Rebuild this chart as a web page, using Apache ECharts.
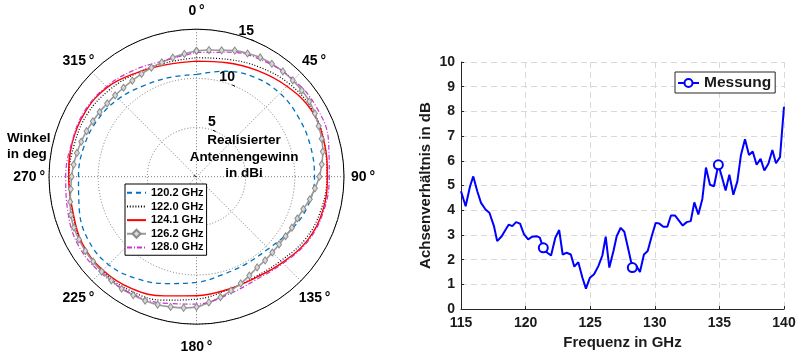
<!DOCTYPE html>
<html><head><meta charset="utf-8">
<script src="https://cdn.jsdelivr.net/npm/echarts@6/dist/echarts.min.js"></script>
<style>html,body{margin:0;padding:0;background:#fff}#c{width:801px;height:355px}</style>
</head><body><div id="c"></div>
<script>
// ---------- Polar chart data (realized gain in dBi vs angle in deg) ----------
const angles15 = [0,15,30,45,60,75,90,105,120,135,150,165,180,195,210,225,240,255,270,285,300,315,330,345];
const gain1202 = [10.4,11.1,11.7,12.0,12.0,12.0,12.0,11.7,11.0,10.35,10.2,10.3,10.75,11.25,12.0,12.65,12.75,12.35,12.0,11.85,11.6,11.2,10.7,10.45];
const gain1220 = [12.1,12.35,12.85,13.35,13.6,13.45,13.25,13.1,12.75,12.1,11.8,11.95,12.45,13.0,13.4,13.55,13.5,13.1,12.95,12.85,12.8,12.5,12.15,12.0];
const gain1241 = [11.75,12.0,12.45,13.0,13.5,13.45,13.3,13.3,13.0,12.35,11.9,11.9,12.1,12.55,13.15,13.45,13.45,13.05,13.0,13.1,13.1,12.85,12.2,11.8];
const gain1280 = [12.65,13.1,13.6,13.95,14.1,13.9,13.5,13.4,13.1,12.45,12.1,12.4,12.95,13.3,13.6,13.8,13.9,13.55,13.3,13.15,13.2,12.95,12.55,12.25];
const angles126 = [0,5.625,11.25,16.875,22.5,28.125,33.75,39.375,45,50.625,56.25,61.875,67.5,73.125,78.75,84.375,
  90,95.625,101.25,106.875,112.5,118.125,123.75,129.375,135,140.625,146.25,151.875,157.5,163.125,168.75,174.375,
  180,185.625,191.25,196.875,202.5,208.125,213.75,219.375,225,230.625,236.25,241.875,247.5,253.125,258.75,264.375,
  270,275.625,281.25,286.875,292.5,298.125,303.75,309.375,315,320.625,326.25,331.875,337.5,343.125,348.75,354.375];
const gain1262 = [12.8,12.94,13.1,13.4,13.56,13.75,13.8,13.85,13.85,13.85,13.8,13.65,13.45,13.3,13.1,12.8,
  12.5,12.1,11.75,11.35,11.1,11.0,10.9,10.86,10.9,11.0,11.1,11.4,11.75,12.1,12.5,12.85,
  13.25,13.4,13.5,13.6,13.65,13.65,13.7,13.65,13.65,13.6,13.6,13.55,13.5,13.35,13.1,12.85,
  12.7,12.55,12.4,12.25,12.1,11.95,11.85,11.75,11.7,11.7,11.75,11.85,12.0,12.15,12.35,12.55];
const angleTicks = [0,45,90,135,180,225,270,315];
const radiusTicks = [5,10,15];

// ---------- Axial ratio data ----------
const freqGHz = [115,115.36,115.7,115.95,116.26,116.55,116.9,117.2,117.55,117.8,118.15,118.46,118.7,118.97,119.26,119.57,119.88,120.2,120.5,120.86,
  121.1,121.37,121.68,121.97,122.3,122.6,122.87,123.18,123.5,123.77,124.08,124.4,124.67,124.98,125.3,125.63,125.94,126.2,126.48,126.8,
  127.05,127.36,127.64,127.95,128.26,128.55,128.85,129.16,129.45,129.76,130.07,130.35,130.66,130.97,131.25,131.56,131.87,132.16,132.47,132.78,
  133.06,133.37,133.68,133.96,134.27,134.58,134.92,135.17,135.48,135.77,136.08,136.39,136.67,136.98,137.29,137.58,137.88,138.19,138.48,138.79,
  139.1,139.38,139.69,140];
const axialRatio = [4.77,4.16,4.97,5.37,4.77,4.3,4.03,3.9,3.36,2.75,2.95,3.22,3.42,3.36,3.52,3.46,3.02,2.82,2.93,2.95,
  2.89,2.48,2.28,2.17,2.89,3.2,2.21,2.28,2.21,1.72,1.9,1.27,0.83,1.27,1.41,1.74,2.17,2.93,1.68,2.35,
  2.95,3.29,3.13,2.42,1.68,1.77,1.5,2.21,2.35,2.95,3.49,3.46,3.33,3.33,3.79,3.79,3.58,3.38,3.52,3.56,
  4.32,3.83,4.46,5.73,5.03,4.97,5.84,5.4,4.8,5.44,4.63,5.17,6.24,6.87,6.24,6.38,5.84,6.08,5.61,5.88,
  6.44,5.9,6.15,8.19];
const markerIdx = [21,44,66];
const xTicks = [115,120,125,130,135,140];
const yTicks = [0,1,2,3,4,5,6,7,8,9,10];

const FF = '"Liberation Sans", Arial, Helvetica, sans-serif';
function closed(angles, vals){
  const d = angles.map((a,i)=>[vals[i], a]);
  d.push([vals[0], 360]);
  return d;
}
const lbl = (pad) => ({fontSize:14, fontWeight:'bold', fontFamily:FF, color:'#000', lineHeight:14, padding:pad});
const noSym = {opacity:0};

const chart = echarts.init(document.getElementById('c'), null, {renderer:'canvas'});
chart.setOption({
  animation:false,
  backgroundColor:'#fff',
  polar:[
    {center:[196.5,176.7], radius:147.5},
    {center:[196.5,176.7], radius:147.5}
  ],
  angleAxis:[
    {polarIndex:0, type:'value', min:0, max:360, interval:45, startAngle:90, clockwise:true,
     axisLine:{show:true, lineStyle:{color:'#000', width:1}},
     axisTick:{show:false},
     splitLine:{show:true, lineStyle:{color:'#7a7a7a', width:1, type:[1,2]}},
     axisLabel:{show:true, margin:-3, fontSize:14, fontWeight:'bold', fontFamily:FF, color:'#000',
       formatter:(v)=> (v===360 || angleTicks.indexOf(v)<0) ? '' : '{a'+v+'|'+v+'\u2009°}',
       rich:{
         a0:lbl([0,0,27.7,0]), a45:lbl([0,0,13.5,3.4]), a90:lbl([0,0,0,10]), a135:lbl([24.6,0,0,0]),
         a180:lbl([37.8,0,0,0]), a225:lbl([24.8,0,0,0]), a270:lbl([0,7,0,0]), a315:lbl([0,0,13.5,0])
       }}
    },
    {polarIndex:1, type:'value', min:0, max:360, startAngle:67, clockwise:true,
     axisLine:{show:false}, axisTick:{show:false}, splitLine:{show:false}, axisLabel:{show:false}}
  ],
  radiusAxis:[
    {polarIndex:0, type:'value', min:0, max:15, interval:5,
     axisLine:{show:false}, axisTick:{show:false}, axisLabel:{show:false},
     splitLine:{show:true, lineStyle:{color:'#7a7a7a', width:1, type:[1,2]}}},
    {polarIndex:1, type:'value', min:0, max:15, interval:5,
     axisLine:{show:false}, axisTick:{show:true, length:3, lineStyle:{color:'#000', width:1}},
     splitLine:{show:false},
     axisLabel:{show:true, margin:0, fontSize:14, fontWeight:'bold', fontFamily:FF, color:'#000',
       formatter:(v)=> radiusTicks.indexOf(v)>=0 ? '{r'+v+'|'+v+'}' : '',
       rich:{ r5:lbl([0,0,19,0]), r10:lbl([0,0,19,0]), r15:lbl([0,0,19,0]) }}}
  ],
  grid:{left:461, top:62, width:323, height:248},
  xAxis:{type:'value', min:115, max:140, interval:5,
    name:'Frequenz in GHz', nameLocation:'middle', nameGap:24,
    nameTextStyle:{fontSize:15, fontWeight:'bold', fontFamily:FF, color:'#1a1a1a'},
    axisLine:{show:true, onZero:false, lineStyle:{color:'#262626', width:1}},
    axisTick:{show:true, inside:true, length:3, lineStyle:{color:'#262626'}},
    axisLabel:{margin:7, fontSize:14, fontWeight:'bold', fontFamily:FF, color:'#1a1a1a',
      formatter:(v)=> xTicks.indexOf(v)>=0 ? String(v) : ''},
    splitLine:{show:true, lineStyle:{color:'#d9d9d9', width:1, type:[6,4]}}},
  yAxis:{type:'value', min:0, max:10, interval:1,
    name:'Achsenverhältnis in dB', nameLocation:'middle', nameGap:28,
    nameTextStyle:{fontSize:15, fontWeight:'bold', fontFamily:FF, color:'#1a1a1a'},
    axisLine:{show:true, onZero:false, lineStyle:{color:'#262626', width:1}},
    axisTick:{show:true, inside:true, length:3, lineStyle:{color:'#262626'}},
    axisLabel:{margin:6, fontSize:14, fontWeight:'bold', fontFamily:FF, color:'#1a1a1a',
      formatter:(v)=> yTicks.indexOf(v)>=0 ? String(v) : ''},
    splitLine:{show:true, lineStyle:{color:'#d9d9d9', width:1, type:[6,4]}}},
  legend:[
    {orient:'vertical', left:125, top:184, padding:[2,3,1,1], itemGap:0, itemWidth:19, itemHeight:10,
     backgroundColor:'#fff', borderColor:'#000', borderWidth:1, borderRadius:0,
     textStyle:{fontSize:11, fontWeight:'bold', fontFamily:FF, color:'#000', lineHeight:13.65},
     data:[{name:'120.2 GHz', itemStyle:noSym},{name:'122.0 GHz', itemStyle:noSym},{name:'124.1 GHz', itemStyle:noSym},
           {name:'126.2 GHz'},{name:'128.0 GHz', itemStyle:noSym}]},
    {orient:'vertical', left:675, top:72, padding:[3,4,2,2], itemGap:0, itemWidth:21, itemHeight:10,
     backgroundColor:'#fff', borderColor:'#262626', borderWidth:1, borderRadius:0,
     textStyle:{fontSize:15.5, fontWeight:'bold', fontFamily:FF, color:'#1a1a1a', lineHeight:16},
     data:['Messung']}
  ],
  graphic:[
    {type:'text', x:7, y:130, z:100, style:{text:'Winkel\nin deg', font:'bold 13.5px '+FF, lineHeight:16, fill:'#000'}},
    {type:'text', x:244, y:132.5, z:100, style:{text:'Realisierter\nAntennengewinn\nin dBi', font:'bold 13.5px '+FF, lineHeight:16.5, fill:'#000', align:'center'}}
  ],
  series:[
    {name:'120.2 GHz', type:'line', coordinateSystem:'polar', polarIndex:0, smooth:0.4, showSymbol:false, symbol:'none',
     lineStyle:{color:'#0072BD', width:1.3, type:[5,4]}, itemStyle:{color:'#0072BD'},
     data:closed(angles15, gain1202)},
    {name:'122.0 GHz', type:'line', coordinateSystem:'polar', polarIndex:0, smooth:0.4, showSymbol:false, symbol:'none',
     lineStyle:{color:'#000', width:1.2, type:[1,1.8]}, itemStyle:{color:'#000'},
     data:closed(angles15, gain1220)},
    {name:'124.1 GHz', type:'line', coordinateSystem:'polar', polarIndex:0, smooth:0.4, showSymbol:false, symbol:'none',
     lineStyle:{color:'#FF0000', width:1.4}, itemStyle:{color:'#FF0000'},
     data:closed(angles15, gain1241)},
    {name:'126.2 GHz', type:'line', coordinateSystem:'polar', polarIndex:0, smooth:0.3, showSymbol:true,
     symbol:'diamond', symbolSize:[5,7],
     lineStyle:{color:'#9a9a9a', width:1.6}, itemStyle:{color:'#d8d8d8', borderColor:'#8a8a8a', borderWidth:1},
     data:closed(angles126, gain1262)},
    {name:'128.0 GHz', type:'line', coordinateSystem:'polar', polarIndex:0, smooth:0.4, showSymbol:false, symbol:'none',
     lineStyle:{color:'#CC33CC', width:1.2, type:[5,2,1,2]}, itemStyle:{color:'#CC33CC'},
     data:closed(angles15, gain1280)},
    {name:'Messung', type:'line', xAxisIndex:0, yAxisIndex:0, symbol:'emptyCircle', symbolSize:9, showSymbol:true,
     lineStyle:{color:'#0000FF', width:2}, itemStyle:{color:'#0000FF', borderWidth:2},
     data:freqGHz.map((f,i)=> markerIdx.indexOf(i)>=0 ? {value:[f, axialRatio[i]]} : {value:[f, axialRatio[i]], symbol:'none'})}
  ]
});
</script></body></html>
